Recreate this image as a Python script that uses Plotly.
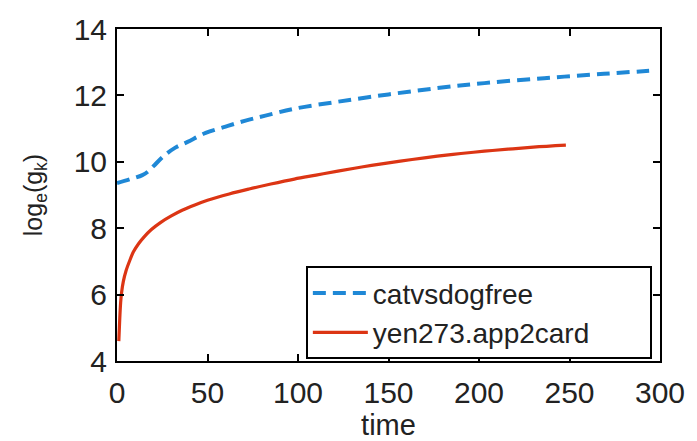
import plotly.graph_objects as go

# Data
cat_time = [0, 7, 14, 17, 20, 26, 32, 39, 49, 60, 71, 82, 98, 122, 150, 177, 203, 236, 269, 294]
cat_vals = [9.36, 9.47, 9.6, 9.7, 9.86, 10.18, 10.42, 10.6, 10.87, 11.06, 11.24, 11.39, 11.6,
            11.81, 12.03, 12.22, 12.37, 12.52, 12.65, 12.74]

yen_time = [1, 1.5, 2, 2.5, 3.5, 5, 7, 9, 12, 15, 19, 24, 30, 36, 43, 50, 62, 73, 85, 98,
            110, 122, 136, 150, 163, 177, 190, 203, 216, 230, 248]
yen_vals = [4.6, 5.25, 5.75, 6.05, 6.4, 6.72, 7.02, 7.28, 7.54, 7.74, 7.96, 8.17, 8.37, 8.54,
            8.7, 8.84, 9.03, 9.18, 9.33, 9.48, 9.6, 9.72, 9.85, 9.97, 10.07, 10.17, 10.25,
            10.32, 10.38, 10.44, 10.5]

series_names = ["catvsdogfree", "yen273.app2card"]
x_ticks = [0, 50, 100, 150, 200, 250, 300]
y_ticks = [4, 6, 8, 10, 12, 14]

FONT = "Liberation Sans, Arial, Helvetica, sans-serif"

fig = go.Figure()
fig.add_trace(go.Scatter(x=cat_time, y=cat_vals, mode="lines", name=series_names[0],
                         line=dict(color="#1f88d6", width=4, dash="13px,7px"),
                         line_shape="spline"))
fig.add_trace(go.Scatter(x=yen_time, y=yen_vals, mode="lines", name=series_names[1],
                         line=dict(color="#dc3514", width=3.2),
                         line_shape="spline"))

axis_common = dict(
    showline=True, linecolor="black", linewidth=2, mirror="ticks",
    ticks="inside", ticklen=7, tickwidth=2, tickcolor="black",
    showgrid=False, zeroline=False,
    tickfont=dict(family=FONT, size=30, color="#222"),
)

fig.update_xaxes(range=[0, 300], tickvals=x_ticks, ticklabelstandoff=4,
                 title=dict(text="time", font=dict(family=FONT, size=29, color="#222"), standoff=0),
                 **axis_common)
fig.update_yaxes(range=[4, 14], tickvals=y_ticks, ticklabelstandoff=2,
                 title=dict(text="log<sub>e</sub>(g<sub>k</sub>)",
                            font=dict(family=FONT, size=25, color="#222"), standoff=24),
                 **axis_common)

fig.update_layout(
    width=697, height=441,
    margin=dict(l=117, r=34, t=23, b=65),
    plot_bgcolor="white", paper_bgcolor="white",
    showlegend=True,
    legend=dict(x=0.985, y=0.005, xanchor="right", yanchor="bottom",
                orientation="h", entrywidth=272, entrywidthmode="pixels",
                bgcolor="white", bordercolor="black", borderwidth=2,
                font=dict(family=FONT, size=28, color="#222"),
                itemwidth=55, tracegroupgap=0),
)

fig.write_html("out.html")
